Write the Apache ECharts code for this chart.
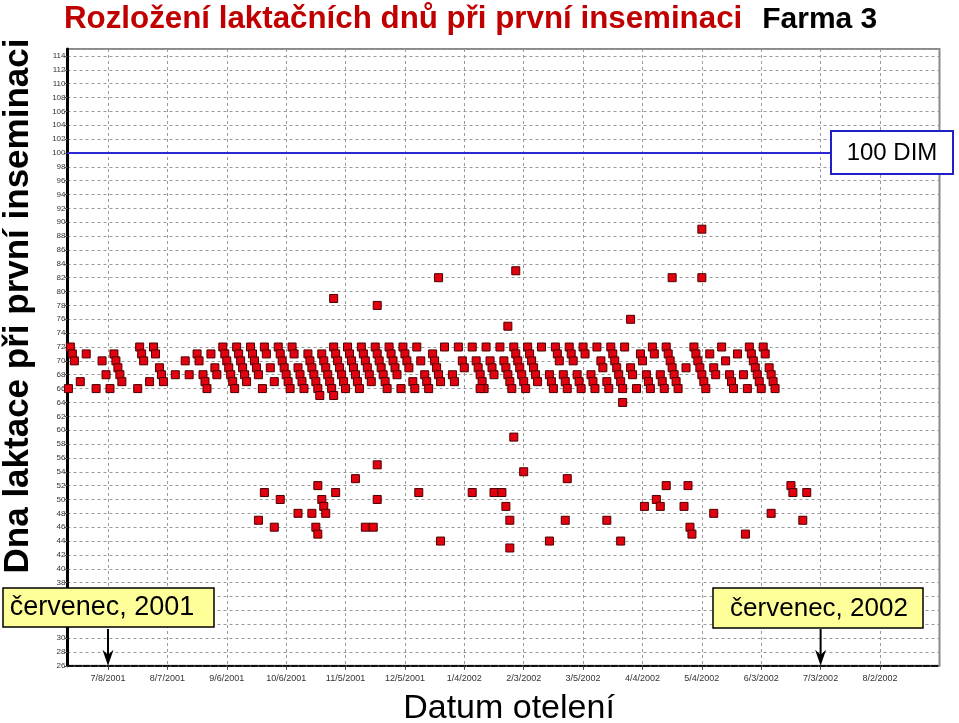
<!DOCTYPE html>
<html><head><meta charset="utf-8">
<script src="https://cdn.jsdelivr.net/npm/echarts@6/dist/echarts.min.js"></script>
<style>html,body{margin:0;padding:0;background:#fff}#c{width:959px;height:723px}</style>
</head><body><div id="c"></div>
<script>
// ---- data ----
const baseDate = '2001-07-08';           // day 0 of the calving-date axis
const tickDates = ['7/8/2001','8/7/2001','9/6/2001','10/6/2001','11/5/2001','12/5/2001','1/4/2002',
                   '2/3/2002','3/5/2002','4/4/2002','5/4/2002','6/3/2002','7/3/2002','8/2/2002'];
const yTickInterval = 2;
const refDim = 100;
const refLabel = '100 DIM';
const calloutLabels = ['červenec, 2001', 'červenec, 2002'];
const calloutDates = ['7/8/2001', '7/3/2002'];
const titleMain = 'Rozložení laktačních dnů při první inseminaci';
const titleFarm = 'Farma 3';
const yTitle = 'Dna laktace při první inseminaci';
const xTitle = 'Datum otelení';

// calving day (days after baseDate) and DIM at first insemination
const calvingDay = [
 -20,-19,-18,-17,-14,-11,-6,-3,-1,1,3,4,5,6,7,15,16,17,18,21,23,24,26,27,28,34,39,41,
 45,46,48,49,50,52,54,55,58,59,60,61,62,63,64,65,66,67,68,69,70,72,73,74,75,76,78,
 79,80,82,84,86,87,88,89,90,91,92,93,94,96,97,98,99,
 101,102,103,104,105,106,107,108,109,110,111,112,113,114,
 114,115,116,117,118,119,120,121,122,123,124,125,126,127,128,129,130,131,132,133,
 135,136,137,138,139,140,141,142,143,144,145,146,148,149,150,151,152,154,155,
 156,158,160,161,162,164,165,166,167,168,170,174,175,177,179,180,
 184,186,187,188,189,190,188,191,193,194,195,198,200,201,202,203,204,
 205,206,207,208,209,210,211,212,213,214,215,216,217,219,223,224,225,
 226,227,228,230,231,232,233,234,235,237,238,239,240,241,244,245,246,
 247,249,250,252,253,254,255,256,257,258,259,260,260,261,264,265,267,
 269,270,272,273,274,275,276,279,280,281,282,283,284,285,286,287,288,292,
 296,297,298,299,300,301,302,304,306,307,310,312,314,315,316,318,321,323,
 324,325,326,327,328,329,330,331,332,334,335,336,337,
 114,136,167,202,206,264,285,300,300,
 76,79,84,87,96,103,105,106,106,108,109,110,115,125,130,134,136,136,157,168,
 184,195,199,201,203,203,205,210,223,231,232,252,259,271,277,279,282,291,293,294,295,
 306,322,335,345,346,353,351
];
const dimFirstAI = [
 66,72,71,70,67,71,66,70,68,66,71,70,69,68,67,66,72,71,70,67,72,71,69,68,67,68,70,68,
 71,70,68,67,66,71,69,68,72,71,70,69,68,67,66,72,71,70,69,68,67,72,71,70,69,68,66,
 72,71,69,67,72,71,70,69,68,67,66,72,71,69,68,67,66,
 71,70,69,68,67,66,65,71,70,69,68,67,66,65,
 72,71,70,69,68,67,66,72,71,70,69,68,67,66,72,71,70,69,68,67,
 72,71,70,69,68,67,66,72,71,70,69,68,66,72,71,70,69,67,66,
 72,70,68,67,66,71,70,69,68,67,72,68,67,72,70,69,
 72,70,69,68,67,66,66,72,70,69,68,72,70,69,68,67,66,
 72,71,70,69,68,67,66,72,71,70,69,68,67,72,68,67,66,
 72,71,70,68,67,66,72,71,70,68,67,66,72,71,68,67,66,
 72,70,69,67,66,72,71,70,69,68,67,66,64,72,69,68,66,
 71,70,68,67,66,72,71,68,67,66,72,71,70,69,68,67,66,69,
 72,71,70,69,68,67,66,71,69,68,72,70,68,67,66,71,68,66,
 72,71,70,69,68,67,66,72,71,69,68,67,66,
 79,78,82,75,83,76,82,82,89,
 47,51,46,50,48,48,46,52,45,50,49,48,51,53,46,46,55,50,51,44,
 51,51,51,49,47,43,59,54,44,47,53,47,44,49,50,49,52,49,52,46,45,
 48,45,48,52,51,51,47
];

// ---- helpers ----
const FONT = 'Liberation Sans, Arial, Helvetica, sans-serif';
const DAY = 86400000;
const [by, bm, bd] = baseDate.split('-').map(Number);
const base = Date.UTC(by, bm - 1, bd);
function dayOf(mdy) { const [m, d, y] = mdy.split('/').map(Number); return (Date.UTC(y, m - 1, d) - base) / DAY; }
const tickDays = tickDates.map(dayOf);
const tickLabelOf = {}; tickDays.forEach((d, i) => tickLabelOf[d] = tickDates[i]);
const points = calvingDay.map((d, i) => [d, dimFirstAI[i]]);

const chart = echarts.init(document.getElementById('c'), null, { renderer: 'canvas' });
const gridLeft = 67.5, gridRight = 19.5, gridTop = 49, gridBottom = 57.2;
const pxPerDay = (880 - 108) / 390;
const xMin = -(108 - gridLeft) / pxPerDay;
const xMax = xMin + (959 - gridLeft - gridRight) / pxPerDay;

const baseGraphics = [
  { type: 'text', z: 10, rotation: Math.PI / 2, x: 18, y: 306,
    style: { text: yTitle, font: 'bold 35px ' + FONT, fill: '#000', textAlign: 'center', textVerticalAlign: 'middle' } },
  { type: 'text', x: 509, y: 709, z: 10,
    style: { text: xTitle, font: '34px ' + FONT, fill: '#000', textAlign: 'center', textVerticalAlign: 'middle' } },
  { type: 'rect', z: 20, shape: { x: 831, y: 131, width: 122, height: 43 },
    style: { fill: '#fff', stroke: '#2020c8', lineWidth: 2 } },
  { type: 'text', z: 21, x: 892, y: 153,
    style: { text: refLabel, font: '24px ' + FONT, fill: '#000', textAlign: 'center', textVerticalAlign: 'middle' } },
  { type: 'rect', z: 20, shape: { x: 3, y: 588, width: 211, height: 39 },
    style: { fill: '#ffff99', stroke: '#000', lineWidth: 1.5 } },
  { type: 'text', z: 21, x: 102, y: 608,
    style: { text: calloutLabels[0], font: '27px ' + FONT, fill: '#000', textAlign: 'center', textVerticalAlign: 'middle' } },
  { type: 'rect', z: 20, shape: { x: 713, y: 588, width: 210, height: 40 },
    style: { fill: '#ffff99', stroke: '#000', lineWidth: 1.5 } },
  { type: 'text', z: 21, x: 819, y: 609,
    style: { text: calloutLabels[1], font: '26px ' + FONT, fill: '#000', textAlign: 'center', textVerticalAlign: 'middle' } }
];

chart.setOption({
  animation: false,
  backgroundColor: '#fff',
  title: {
    text: '{r|' + titleMain + '}{b|' + titleFarm + '}',
    left: 59, top: -1,
    textStyle: { rich: {
      r: { fontSize: 31.3, fontWeight: 'bold', color: '#c00000', fontFamily: FONT, padding: [0, 20, 0, 0] },
      b: { fontSize: 30, fontWeight: 'bold', color: '#000', fontFamily: FONT }
    } }
  },
  grid: { left: gridLeft, right: gridRight, top: gridTop, bottom: gridBottom,
          show: true, borderColor: '#8a8a8a', borderWidth: 2, containLabel: false },
  xAxis: {
    type: 'value', min: xMin, max: xMax,
    axisLine: { show: true, onZero: false, lineStyle: { color: '#111', width: 2, type: [6, 2] } },
    axisTick: { show: true, length: 4, lineStyle: { color: '#444' }, customValues: tickDays },
    axisLabel: { customValues: tickDays, formatter: v => tickLabelOf[v] || '', fontSize: 9,
                 color: '#333', fontFamily: FONT, margin: 8 },
    splitLine: { show: true, lineStyle: { color: '#9a9a9a', width: 1, type: [3, 3] } }
  },
  yAxis: {
    type: 'value', min: 26, max: 115, interval: yTickInterval,
    axisLine: { show: true, onZero: false, lineStyle: { color: '#000', width: 3 } },
    axisTick: { show: true, length: 3, lineStyle: { color: '#555' } },
    axisLabel: { fontSize: 8, color: '#333', fontFamily: FONT, margin: 2, showMaxLabel: false },
    splitLine: { show: true, lineStyle: { color: '#9a9a9a', width: 1, type: [3, 3] } }
  },
  series: [{
    type: 'scatter',
    data: points,
    symbol: 'rect',
    symbolSize: 8,
    itemStyle: { color: '#e3000f', borderColor: '#4a0000', borderWidth: 1, opacity: 1 },
    markLine: {
      silent: true, animation: false, symbol: 'none',
      label: { show: false },
      lineStyle: { color: '#2a2ad0', width: 2, type: 'solid' },
      data: [ { yAxis: refDim } ]
    }
  }],
  graphic: baseGraphics
});

// arrows from the callout boxes down to their dates on the axis
const arrowTop = 31.3, arrowTip = 26;
const arrows = [];
calloutDates.forEach(dt => {
  const p0 = chart.convertToPixel({ xAxisIndex: 0, yAxisIndex: 0 }, [dayOf(dt), arrowTop]);
  const p1 = chart.convertToPixel({ xAxisIndex: 0, yAxisIndex: 0 }, [dayOf(dt), arrowTip]);
  arrows.push({ type: 'line', z: 15, shape: { x1: p0[0], y1: p0[1], x2: p1[0], y2: p1[1] - 10 },
                style: { stroke: '#000', lineWidth: 2 } });
  arrows.push({ type: 'polygon', z: 15,
                shape: { points: [[p1[0], p1[1]], [p1[0] - 5.5, p1[1] - 16], [p1[0], p1[1] - 11], [p1[0] + 5.5, p1[1] - 16]] },
                style: { fill: '#000' } });
});
chart.setOption({ graphic: baseGraphics.concat(arrows) });
</script></body></html>
